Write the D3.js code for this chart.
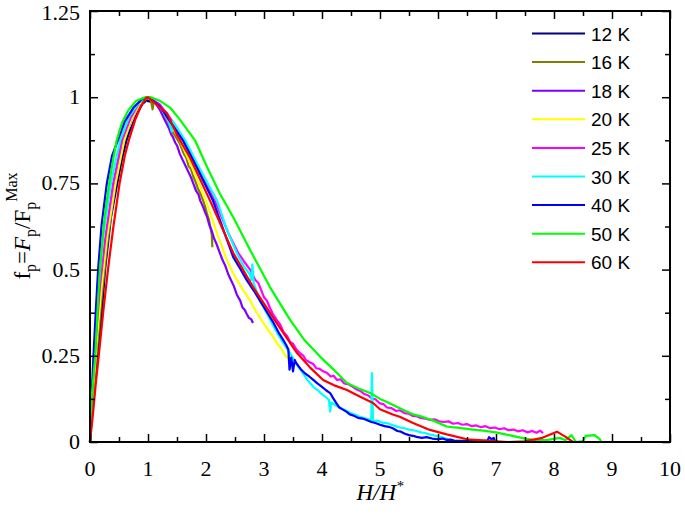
<!DOCTYPE html>
<html>
<head>
<meta charset="utf-8">
<script src="https://cdn.jsdelivr.net/npm/d3@7"></script>
<style>
body{margin:0;background:#fff;}
svg{display:block;}
</style>
</head>
<body>
<script>
// data, [H/H*, fp]
var s12 = [[0,0],[0.05,0.12],[0.13,0.25],[0.2,0.37],[0.26,0.5],[0.36,0.65],[0.47,0.75],[0.55,0.82],[0.63,0.875],[0.68,0.9],[0.72,0.915],[0.78,0.94],[0.83,0.958],[0.87,0.97],[0.91,0.982],[0.94,0.985],[0.97,0.993],[1.0,0.988],[1.03,0.99],[1.05,0.984]];
var s16 = [[0,0],[0.05,0.13],[0.12,0.27],[0.2,0.42],[0.3,0.58],[0.44,0.75],[0.56,0.86],[0.7,0.93],[0.85,0.98],[0.95,0.998],[1.0,1.0],[1.05,0.99],[1.08,0.965],[1.1,0.99],[1.2,0.975],[1.3,0.945],[1.36,0.925],[1.42,0.9],[1.48,0.885],[1.55,0.865],[1.62,0.835],[1.66,0.825],[1.7,0.8],[1.74,0.792],[1.78,0.77],[1.82,0.755],[1.86,0.735],[1.9,0.722],[1.95,0.70],[1.99,0.68],[2.02,0.66],[2.05,0.645],[2.08,0.62],[2.1,0.6],[2.11,0.565]];
var s18 = [[0,0],[0.05,0.14],[0.12,0.3],[0.2,0.45],[0.3,0.6],[0.44,0.75],[0.58,0.87],[0.7,0.93],[0.85,0.98],[1.0,1.0],[1.1,0.99],[1.2,0.965],[1.3,0.93],[1.36,0.91],[1.4,0.892],[1.43,0.884],[1.47,0.868],[1.5,0.86],[1.55,0.835],[1.6,0.817],[1.65,0.8],[1.7,0.782],[1.74,0.768],[1.78,0.75],[1.83,0.728],[1.87,0.718],[1.9,0.70],[1.95,0.682],[1.98,0.668],[2.02,0.652],[2.06,0.628],[2.1,0.612],[2.14,0.59],[2.18,0.575],[2.24,0.548],[2.28,0.53],[2.33,0.512],[2.38,0.488],[2.43,0.47],[2.48,0.452],[2.53,0.428],[2.59,0.41],[2.63,0.39],[2.67,0.383],[2.7,0.372],[2.74,0.36],[2.78,0.356],[2.81,0.345]];
var s20 = [[0,0],[0.05,0.14],[0.12,0.3],[0.2,0.45],[0.3,0.6],[0.44,0.75],[0.59,0.875],[0.7,0.93],[0.85,0.98],[1.0,1.0],[1.2,0.975],[1.4,0.92],[1.55,0.875],[1.75,0.8],[1.9,0.74],[2.02,0.69],[2.2,0.6],[2.36,0.527],[2.45,0.495],[2.55,0.465],[2.65,0.438],[2.76,0.41],[2.85,0.382],[2.95,0.355],[3.05,0.33],[3.16,0.304],[3.23,0.285],[3.3,0.27],[3.36,0.252],[3.4,0.246],[3.46,0.232],[3.5,0.225]];
var s25 = [[0,0],[0.04,0.14],[0.1,0.3],[0.17,0.45],[0.27,0.6],[0.4,0.75],[0.55,0.875],[0.7,0.94],[0.85,0.985],[1.0,1.0],[1.2,0.98],[1.4,0.935],[1.64,0.87],[1.9,0.785],[2.19,0.685],[2.4,0.6],[2.55,0.55],[2.65,0.525],[2.76,0.50],[2.85,0.47],[2.9,0.462],[3.0,0.42],[3.05,0.41],[3.1,0.39],[3.15,0.372],[3.22,0.354],[3.28,0.34],[3.34,0.318],[3.4,0.307],[3.45,0.29],[3.5,0.285],[3.56,0.268],[3.62,0.258],[3.68,0.25],[3.72,0.238],[3.78,0.232],[3.85,0.226],[3.9,0.214],[3.96,0.212],[4.02,0.205],[4.09,0.2],[4.15,0.19],[4.2,0.192],[4.26,0.18],[4.32,0.182],[4.38,0.17],[4.45,0.168],[4.53,0.16],[4.6,0.152],[4.66,0.148],[4.72,0.14],[4.8,0.135],[4.86,0.126],[4.92,0.124],[5.0,0.112],[5.06,0.11],[5.12,0.1],[5.2,0.098],[5.28,0.09],[5.34,0.092],[5.42,0.084],[5.5,0.082],[5.56,0.076],[5.63,0.075],[5.7,0.07],[5.78,0.068],[5.86,0.064],[5.94,0.066],[6.02,0.06],[6.1,0.058],[6.18,0.06],[6.26,0.053],[6.34,0.055],[6.42,0.05],[6.5,0.052],[6.58,0.046],[6.66,0.048],[6.74,0.043],[6.82,0.046],[6.9,0.04],[6.98,0.042],[7.06,0.037],[7.14,0.04],[7.22,0.034],[7.3,0.036],[7.38,0.031],[7.46,0.034],[7.54,0.028],[7.62,0.032],[7.7,0.027],[7.76,0.033],[7.81,0.026]];
var s30 = [[0,0],[0.03,0.13],[0.08,0.28],[0.14,0.44],[0.23,0.6],[0.36,0.75],[0.52,0.875],[0.68,0.945],[0.85,0.985],[1.0,1.0],[1.2,0.975],[1.35,0.935],[1.41,0.9],[1.43,0.93],[1.64,0.875],[1.9,0.79],[2.19,0.70],[2.35,0.62],[2.53,0.548],[2.65,0.51],[2.76,0.485],[2.78,0.47],[2.8,0.515],[2.82,0.462],[2.93,0.41],[3.05,0.373],[3.15,0.34],[3.25,0.31],[3.35,0.282],[3.45,0.258],[3.55,0.228],[3.65,0.205],[3.75,0.18],[3.85,0.16],[3.93,0.15],[4.0,0.138],[4.07,0.13],[4.12,0.122],[4.14,0.088],[4.16,0.115],[4.22,0.108],[4.3,0.1],[4.38,0.094],[4.48,0.085],[4.56,0.08],[4.64,0.074],[4.72,0.07],[4.8,0.066],[4.85,0.064],[4.86,0.2],[4.88,0.06],[4.95,0.062],[5.04,0.056],[5.12,0.055],[5.2,0.05],[5.27,0.046],[5.34,0.042],[5.42,0.04],[5.5,0.036],[5.57,0.034],[5.63,0.032],[5.7,0.028],[5.78,0.026],[5.85,0.022],[5.92,0.02],[6.0,0.016],[6.07,0.014],[6.14,0.01],[6.2,0.005]];
var s40 = [[0,0],[0.02,0.1],[0.06,0.25],[0.1,0.38],[0.14,0.5],[0.2,0.63],[0.29,0.75],[0.38,0.83],[0.48,0.875],[0.6,0.93],[0.75,0.97],[0.9,0.995],[1.0,1.0],[1.2,0.975],[1.4,0.925],[1.6,0.875],[1.84,0.797],[2.12,0.70],[2.3,0.615],[2.47,0.536],[2.6,0.5],[2.7,0.47],[2.82,0.44],[2.93,0.41],[3.04,0.38],[3.15,0.35],[3.25,0.318],[3.33,0.296],[3.38,0.282],[3.42,0.268],[3.44,0.21],[3.47,0.245],[3.5,0.205],[3.53,0.238],[3.56,0.228],[3.63,0.212],[3.7,0.2],[3.78,0.19],[3.85,0.18],[3.92,0.17],[4.0,0.16],[4.07,0.15],[4.14,0.142],[4.2,0.125],[4.25,0.112],[4.3,0.1],[4.36,0.094],[4.42,0.088],[4.48,0.08],[4.55,0.076],[4.62,0.07],[4.7,0.068],[4.77,0.064],[4.85,0.058],[4.92,0.055],[5.0,0.05],[5.08,0.046],[5.15,0.044],[5.22,0.04],[5.3,0.032],[5.36,0.03],[5.43,0.024],[5.5,0.02],[5.57,0.018],[5.63,0.015],[5.72,0.012],[5.8,0.014],[5.9,0.01],[6.0,0.008],[6.08,0.01],[6.15,0.006],[6.22,0.007],[6.3,0.003],[6.85,0.003],[6.88,0.014],[6.92,0.008],[6.96,0.012],[6.98,0.003]];
var s50 = [[0,0],[0.03,0.13],[0.09,0.25],[0.13,0.38],[0.17,0.5],[0.25,0.65],[0.33,0.75],[0.4,0.82],[0.46,0.875],[0.55,0.925],[0.66,0.962],[0.8,0.99],[0.95,1.0],[1.05,1.0],[1.2,0.99],[1.38,0.97],[1.55,0.935],[1.72,0.896],[1.81,0.875],[2.02,0.797],[2.24,0.72],[2.47,0.652],[2.76,0.557],[3.1,0.45],[3.45,0.354],[3.7,0.295],[3.97,0.247],[4.2,0.21],[4.43,0.171],[4.63,0.155],[4.83,0.142],[5.0,0.125],[5.12,0.116],[5.34,0.098],[5.57,0.08],[5.75,0.072],[5.92,0.062],[6.15,0.045],[6.4,0.04],[6.6,0.036],[6.78,0.033],[7.0,0.028],[7.3,0.017],[7.5,0.01],[7.7,0.005],[7.9,0.006],[8.1,0.012],[8.2,0.005],[8.3,0.02],[8.38,0.0],[8.5,0.003],[8.55,0.018],[8.7,0.02],[8.78,0.01],[8.82,0.0]];
var s60 = [[0,0],[0.05,0.08],[0.1,0.17],[0.15,0.25],[0.23,0.38],[0.31,0.5],[0.4,0.62],[0.51,0.75],[0.6,0.83],[0.67,0.875],[0.78,0.935],[0.88,0.975],[0.97,0.998],[1.0,1.0],[1.1,0.985],[1.33,0.953],[1.5,0.89],[1.72,0.826],[2.07,0.70],[2.47,0.548],[2.81,0.45],[3.22,0.345],[3.57,0.258],[3.8,0.215],[4.02,0.18],[4.2,0.165],[4.43,0.151],[4.65,0.132],[4.88,0.113],[5.0,0.095],[5.22,0.08],[5.34,0.073],[5.57,0.055],[5.86,0.035],[6.15,0.022],[6.5,0.008],[6.9,0.003],[7.2,0.0],[7.5,0.002],[7.8,0.012],[8.05,0.03],[8.2,0.015],[8.33,0.0]];

var labels = ['12 K','16 K','18 K','20 K','25 K','30 K','40 K','50 K','60 K'];
var colors = ['#000080','#808000','#8000ff','#ffff00','#ff00ff','#00ffff','#0000ff','#00ff00','#ff0000'];
var series = [s12,s16,s18,s20,s25,s30,s40,s50,s60];
var xTicks = [0,1,2,3,4,5,6,7,8,9,10];
var yTicks = [0,0.25,0.5,0.75,1,1.25];
var yTickText = ['0','0.25','0.5','0.75','1','1.25'];

var width = 685, height = 517;
var svg = d3.select('body').append('svg').attr('width',width).attr('height',height);
var x = d3.scaleLinear().domain([0,10]).range([90,670]);
var y = d3.scaleLinear().domain([0,1.25]).range([442,11]);

var line = d3.line().x(function(d){return x(d[0]);}).y(function(d){return y(d[1]);});
var plot = svg.append('g');
series.forEach(function(s,i){
  plot.append('path').attr('d',line(s)).attr('fill','none')
    .attr('stroke',colors[i]).attr('stroke-width',2.2).attr('stroke-linejoin','round');
});

// ticks on all four sides, pointing in
var xMinor = d3.range(0.5,10,1), yMinor = d3.range(0.125,1.25,0.25);
svg.append('g').attr('transform','translate(0,442)')
  .call(d3.axisBottom(x).tickValues(xTicks).tickSize(-8).tickFormat(''));
svg.append('g').attr('transform','translate(0,442)')
  .call(d3.axisBottom(x).tickValues(xMinor).tickSize(-5).tickFormat(''));
svg.append('g').attr('transform','translate(0,11)')
  .call(d3.axisTop(x).tickValues(xTicks).tickSize(-8).tickFormat(''));
svg.append('g').attr('transform','translate(0,11)')
  .call(d3.axisTop(x).tickValues(xMinor).tickSize(-5).tickFormat(''));
svg.append('g').attr('transform','translate(90,0)')
  .call(d3.axisLeft(y).tickValues(yTicks).tickSize(-8).tickFormat(''));
svg.append('g').attr('transform','translate(90,0)')
  .call(d3.axisLeft(y).tickValues(yMinor).tickSize(-5).tickFormat(''));
svg.append('g').attr('transform','translate(670,0)')
  .call(d3.axisRight(y).tickValues(yTicks).tickSize(-8).tickFormat(''));
svg.append('g').attr('transform','translate(670,0)')
  .call(d3.axisRight(y).tickValues(yMinor).tickSize(-5).tickFormat(''));
svg.selectAll('.domain').remove();
svg.selectAll('.tick line').attr('stroke','#000').attr('stroke-width',1.5);
svg.append('rect').attr('x',90).attr('y',11).attr('width',580).attr('height',431)
  .attr('fill','none').attr('stroke','#000').attr('stroke-width',2);

// tick labels
svg.selectAll('.xl').data(xTicks).enter().append('text')
  .attr('x',function(d){return x(d);}).attr('y',476)
  .attr('text-anchor','middle').attr('font-family','Liberation Serif').attr('font-size',22)
  .text(function(d){return d;});
svg.selectAll('.yl').data(yTicks).enter().append('text')
  .attr('x',80).attr('y',function(d){return Math.max(y(d)+7,20);})
  .attr('text-anchor','end').attr('font-family','Liberation Serif').attr('font-size',22)
  .text(function(d,i){return yTickText[i];});

// axis titles
var xt = svg.append('text').attr('x',380).attr('y',500).attr('text-anchor','middle')
  .attr('font-family','Liberation Serif').attr('font-size',23).attr('font-style','italic');
xt.append('tspan').text('H/H');
xt.append('tspan').attr('dy',-9).attr('font-size',15).text('*');

var yt = svg.append('text').attr('transform','translate(30,226) rotate(-90)')
  .attr('text-anchor','middle').attr('font-family','Liberation Serif').attr('font-size',23);
yt.append('tspan').text('f');
yt.append('tspan').attr('dy',6).attr('font-size',16).text('p');
yt.append('tspan').attr('dy',-6).text('=');
yt.append('tspan').attr('font-style','italic').text('F');
yt.append('tspan').attr('dy',6).attr('font-size',16).text('p');
yt.append('tspan').attr('dy',-6).text('/F');
yt.append('tspan').attr('dy',6).attr('font-size',16).text('p');
yt.append('tspan').attr('dy',-19).attr('font-size',16).text('Max');

// legend
var lg = svg.append('g');
labels.forEach(function(t,i){
  var yy = 33.5 + i*28.6;
  lg.append('line').attr('x1',532).attr('x2',585).attr('y1',yy).attr('y2',yy)
    .attr('stroke',colors[i]).attr('stroke-width',2);
  lg.append('text').attr('x',591).attr('y',yy+7).attr('font-family','Liberation Sans')
    .attr('font-size',19).text(t);
});
</script>
</body>
</html>
